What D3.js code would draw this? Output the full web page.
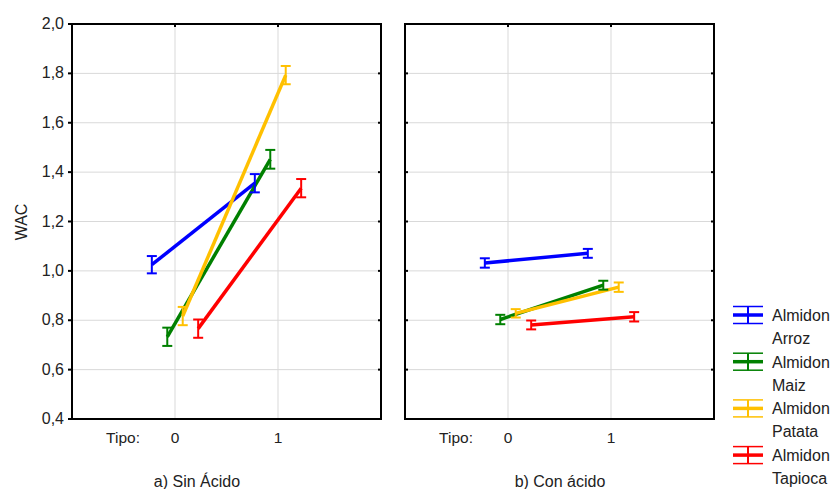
<!DOCTYPE html>
<html>
<head>
<meta charset="utf-8">
<script src="https://cdn.jsdelivr.net/npm/d3@7"></script>
<style>
  body { margin: 0; background: #fff; }
  text { font-family: Arial, "Liberation Sans", sans-serif; fill: #222; }
</style>
</head>
<body>
<svg id="chart" width="834" height="489"></svg>
<script>
// data
const seriesNames = [['Almidon', 'Arroz'], ['Almidon', 'Maiz'], ['Almidon', 'Patata'], ['Almidon', 'Tapioca']]
const tipos = [0, 1]
const panelTitles = ['a) Sin Ácido', 'b) Con ácido']
const sinAcidoMean = [[1.025, 1.355], [0.733, 1.452], [0.817, 1.793], [0.766, 1.335]]
const sinAcidoErr = [[0.035, 0.037], [0.037, 0.038], [0.037, 0.037], [0.037, 0.037]]
const conAcidoMean = [[1.032, 1.071], [0.803, 0.942], [0.828, 0.934], [0.781, 0.814]]
const conAcidoErr = [[0.019, 0.018], [0.019, 0.018], [0.017, 0.019], [0.018, 0.019]]
const yTicks = [0.4, 0.6, 0.8, 1.0, 1.2, 1.4, 1.6, 1.8, 2.0]

const colors = ['#0000ff', '#008000', '#ffc000', '#ff0000']
const dodge = [-0.225, -0.075, 0.075, 0.225]

const svg = d3.select('#chart')
const fmt = v => d3.format('.1f')(v).replace('.', ',')

const y = d3.scaleLinear().domain([0.4, 2.0]).range([419, 24])

const panels = [
  { left: 72, means: sinAcidoMean, errs: sinAcidoErr, title: panelTitles[0], titleX: 197 },
  { left: 405, means: conAcidoMean, errs: conAcidoErr, title: panelTitles[1], titleX: 560 }
]

panels.forEach((p, pi) => {
  const x = d3.scaleLinear().domain([-1, 2]).range([p.left, p.left + 309])
  const g = svg.append('g')

  // grid
  g.selectAll('.hg').data(yTicks.slice(1, -1)).enter().append('line')
    .attr('x1', x(-1)).attr('x2', x(2))
    .attr('y1', d => y(d)).attr('y2', d => y(d))
    .attr('stroke', '#d9d9d9').attr('stroke-width', 1)
  g.selectAll('.vg').data(tipos).enter().append('line')
    .attr('x1', d => x(d)).attr('x2', d => x(d))
    .attr('y1', y(2.0)).attr('y2', y(0.4))
    .attr('stroke', '#d9d9d9').attr('stroke-width', 1)

  // ticks
  g.selectAll('.yt').data(yTicks).enter().append('line')
    .attr('x1', pi === 0 ? x(-1) - 4 : x(-1)).attr('x2', pi === 0 ? x(-1) : x(-1) + 3)
    .attr('y1', d => y(d)).attr('y2', d => y(d))
    .attr('stroke', '#000').attr('stroke-width', 2)
  g.selectAll('.yt2').data(yTicks).enter().append('line')
    .attr('x1', x(2) - 3).attr('x2', x(2))
    .attr('y1', d => y(d)).attr('y2', d => y(d))
    .attr('stroke', '#000').attr('stroke-width', 2)
  g.selectAll('.xt').data(tipos).enter().append('line')
    .attr('x1', d => x(d)).attr('x2', d => x(d))
    .attr('y1', y(2.0)).attr('y2', y(2.0) + 3)
    .attr('stroke', '#000').attr('stroke-width', 2)

  // frame
  g.append('rect')
    .attr('x', x(-1)).attr('y', y(2.0))
    .attr('width', x(2) - x(-1)).attr('height', y(0.4) - y(2.0))
    .attr('fill', 'none').attr('stroke', '#000').attr('stroke-width', 2)

  // y labels only on first panel
  if (pi === 0) {
    g.selectAll('.yl').data(yTicks).enter().append('text')
      .attr('x', x(-1) - 8).attr('y', d => y(d) + 5)
      .attr('text-anchor', 'end').attr('font-size', 16)
      .text(fmt)
  }

  // x labels
  g.append('text').attr('x', x(-1) + 68).attr('y', 443)
    .attr('text-anchor', 'end').attr('font-size', 15.5).text('Tipo:')
  g.selectAll('.xl').data(tipos).enter().append('text')
    .attr('x', d => x(d)).attr('y', 443)
    .attr('text-anchor', 'middle').attr('font-size', 15.5).text(d => d)
  g.append('text').attr('x', p.titleX).attr('y', 487)
    .attr('text-anchor', 'middle').attr('font-size', 16).text(p.title)

  // lines
  const line = d3.line().x(d => d[0]).y(d => d[1])
  p.means.forEach((m, si) => {
    const pts = tipos.map((t, i) => [x(t + dodge[si]), y(m[i])])
    g.append('path').attr('d', line(pts))
      .attr('fill', 'none').attr('stroke', colors[si]).attr('stroke-width', 3.5)
  })
  // error bars
  p.means.forEach((m, si) => {
    tipos.forEach((t, i) => {
      const cx = x(t + dodge[si])
      const lo = y(m[i] - p.errs[si][i]), hi = y(m[i] + p.errs[si][i])
      const eb = g.append('g').attr('stroke', colors[si]).attr('stroke-width', 2)
      eb.append('line').attr('x1', cx).attr('x2', cx).attr('y1', lo).attr('y2', hi)
      eb.append('line').attr('x1', cx - 5).attr('x2', cx + 5).attr('y1', lo).attr('y2', lo)
      eb.append('line').attr('x1', cx - 5).attr('x2', cx + 5).attr('y1', hi).attr('y2', hi)
    })
  })
})

// y axis title
svg.append('text')
  .attr('transform', `translate(27, 222) rotate(-90)`)
  .attr('text-anchor', 'middle').attr('font-size', 16).text('WAC')

// legend
const leg = svg.append('g')
seriesNames.forEach((n, i) => {
  const cy = 315 + i * 46.7
  const lg = leg.append('g').attr('stroke', colors[i])
  lg.append('line').attr('x1', 733).attr('x2', 763).attr('y1', cy - 8.5).attr('y2', cy - 8.5).attr('stroke-width', 1.5)
  lg.append('line').attr('x1', 733).attr('x2', 763).attr('y1', cy).attr('y2', cy).attr('stroke-width', 3.5)
  lg.append('line').attr('x1', 733).attr('x2', 763).attr('y1', cy + 8.5).attr('y2', cy + 8.5).attr('stroke-width', 1.5)
  lg.append('line').attr('x1', 748).attr('x2', 748).attr('y1', cy - 8.5).attr('y2', cy + 8.5).attr('stroke-width', 2)
  leg.append('text').attr('x', 772).attr('y', cy + 6).attr('font-size', 16).text(n[0])
  leg.append('text').attr('x', 772).attr('y', cy + 29).attr('font-size', 16).text(n[1])
})
</script>
</body>
</html>
